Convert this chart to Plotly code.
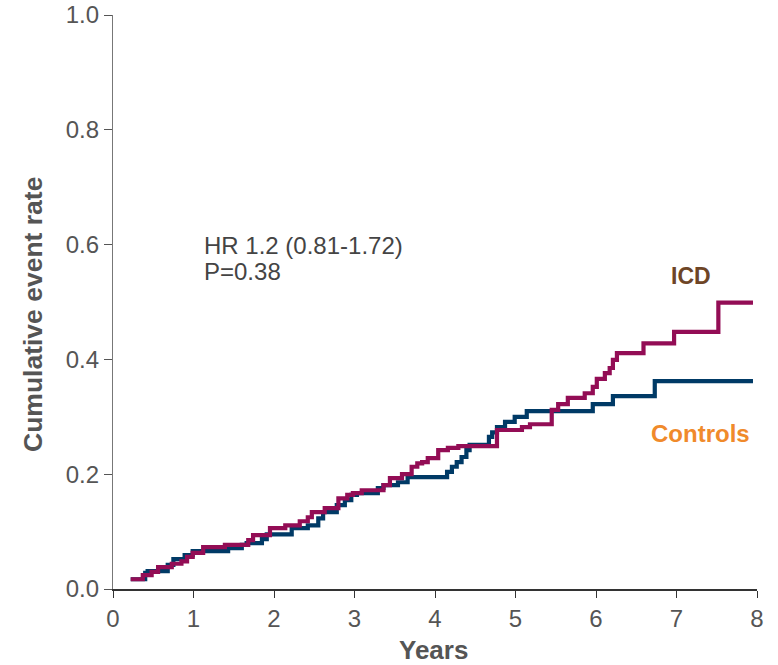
import plotly.graph_objects as go

# ICD curve (step times in years, cumulative event rate after step)
icd_t = [0.22, 0.37, 0.48, 0.56, 0.73, 0.85, 0.92, 0.99, 1.12, 1.39, 1.68, 1.74, 1.95, 2.14, 2.32,
         2.42, 2.47, 2.63, 2.80, 2.91, 2.98, 3.09, 3.36, 3.44, 3.59, 3.71, 3.78, 3.84, 3.91, 4.04,
         4.16, 4.29, 4.77, 5.08, 5.18, 5.45, 5.53, 5.65, 5.86, 5.96, 6.01, 6.11, 6.17, 6.21, 6.26,
         6.59, 6.97, 7.52, 7.95]
icd_v = [0.017, 0.024, 0.030, 0.038, 0.044, 0.048, 0.056, 0.063, 0.073, 0.077, 0.085, 0.094, 0.106,
         0.111, 0.118, 0.125, 0.134, 0.141, 0.158, 0.164, 0.167, 0.172, 0.181, 0.193, 0.200, 0.213,
         0.219, 0.221, 0.228, 0.242, 0.246, 0.249, 0.277, 0.282, 0.287, 0.312, 0.322, 0.333, 0.341,
         0.352, 0.366, 0.376, 0.385, 0.399, 0.411, 0.428, 0.448, 0.499, 0.499]

# Controls curve
ctl_t = [0.22, 0.40, 0.43, 0.68, 0.75, 0.89, 0.99, 1.43, 1.60, 1.66, 1.85, 1.91, 2.22, 2.42, 2.55,
         2.61, 2.78, 2.88, 2.96, 3.03, 3.29, 3.36, 3.54, 3.66, 4.15, 4.21, 4.27, 4.33, 4.39, 4.43,
         4.67, 4.71, 4.77, 4.87, 4.99, 5.14, 5.96, 6.21, 6.73, 7.95]
ctl_v = [0.017, 0.028, 0.031, 0.042, 0.052, 0.059, 0.066, 0.071, 0.077, 0.080, 0.087, 0.095, 0.106,
         0.111, 0.123, 0.134, 0.146, 0.155, 0.164, 0.167, 0.176, 0.181, 0.186, 0.195, 0.204, 0.213,
         0.221, 0.230, 0.242, 0.251, 0.265, 0.273, 0.282, 0.291, 0.300, 0.310, 0.322, 0.336, 0.362,
         0.362]

x_ticks = [0, 1, 2, 3, 4, 5, 6, 7, 8]
y_ticks = [0.0, 0.2, 0.4, 0.6, 0.8, 1.0]

FONT = "Liberation Sans, Arial, sans-serif"
GREY = "#555555"

# plot area in pixels: x 113..757, y 15..589
PX0, PX1, PY0, PY1 = 113, 757, 15, 589
def px(xpix):
    return (xpix - PX0) / (PX1 - PX0)
def py(ypix):
    return (PY1 - ypix) / (PY1 - PY0)

fig = go.Figure()
fig.add_trace(go.Scatter(x=ctl_t, y=ctl_v, mode="lines", line_shape="hv",
                         line=dict(color="#003A66", width=4.2), name="Controls"))
fig.add_trace(go.Scatter(x=icd_t, y=icd_v, mode="lines", line_shape="hv",
                         line=dict(color="#930D55", width=4.2), name="ICD"))

fig.update_layout(
    width=778, height=665,
    margin=dict(l=PX0, r=778 - PX1, t=PY0, b=665 - PY1),
    plot_bgcolor="white", paper_bgcolor="white",
    showlegend=False,
    font=dict(family=FONT, color=GREY),
    xaxis=dict(range=[0, 8], tickvals=x_ticks, ticktext=[str(v) for v in x_ticks],
               showgrid=False, zeroline=False, showline=True, linecolor="#333333", linewidth=1.5,
               ticks="outside", ticklen=7, tickcolor="#333333", tickwidth=1.2, automargin=False,
               tickfont=dict(size=24, color=GREY)),
    yaxis=dict(range=[0, 1], tickvals=y_ticks, ticktext=[f"{v:.1f}" for v in y_ticks],
               showgrid=False, zeroline=False, showline=True, linecolor="#777777", linewidth=1.2,
               ticks="outside", ticklen=8, tickcolor="#555555", tickwidth=1.2, automargin=False,
               tickfont=dict(size=24, color=GREY)),
    annotations=[
        dict(text="<b>Years</b>", xref="paper", yref="paper", x=px(433), y=py(650),
             xanchor="center", yanchor="middle", showarrow=False, borderpad=0,
             font=dict(size=26, color=GREY, family=FONT)),
        dict(text="<b>Cumulative event rate</b>", xref="paper", yref="paper",
             x=px(33), y=py(315), textangle=-90,
             xanchor="center", yanchor="middle", showarrow=False,
             font=dict(size=26.5, color=GREY, family=FONT)),
        dict(text="HR 1.2 (0.81-1.72)", xref="paper", yref="paper",
             x=px(202), y=py(245), xanchor="left", yanchor="middle", showarrow=False,
             font=dict(size=24, color="#444444", family=FONT)),
        dict(text="P=0.38", xref="paper", yref="paper",
             x=px(202), y=py(271), xanchor="left", yanchor="middle", showarrow=False,
             font=dict(size=24, color="#444444", family=FONT)),
        dict(text="<b>ICD</b>", xref="paper", yref="paper",
             x=px(691), y=py(276), xanchor="center", yanchor="middle", showarrow=False,
             font=dict(size=23, color="#6E4526", family=FONT)),
        dict(text="<b>Controls</b>", xref="paper", yref="paper",
             x=px(700), y=py(433), xanchor="center", yanchor="middle", showarrow=False,
             font=dict(size=24, color="#F08A2B", family=FONT)),
    ],
)

fig.write_html("out.html")
